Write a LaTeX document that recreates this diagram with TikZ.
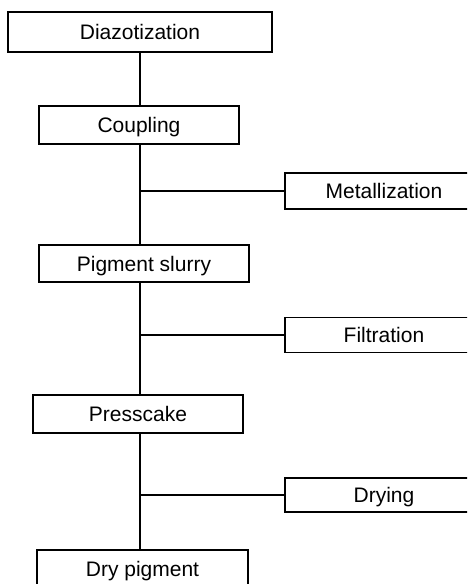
\documentclass[tikz,border=0pt]{standalone}
\usepackage{fontspec}
\setmainfont{Liberation Sans}
\usetikzlibrary{positioning}

\begin{document}
\begin{tikzpicture}[x=1pt,y=-1pt]
\tikzset{stepbox/.style={draw,line width=1.1pt,inner sep=0pt,text height=15pt,text depth=0pt,font=\fontsize{21}{24}\selectfont},
         trunk/.style={line width=1.8pt},
         branch/.style={line width=1.4pt}}
\useasboundingbox (0,0) rectangle (467,584);
\clip (0,0) rectangle (467,584);
\coordinate (spine) at (140,0);
% main line of steps
\node[stepbox,minimum width=264pt,minimum height=40pt] (diaz) at (140,32) {Diazotization};
\node[stepbox,minimum width=200pt,minimum height=38pt] (coup) at (139,125) {Coupling};
\node[stepbox,minimum width=210pt,minimum height=37pt] (slurry) at (144,263.5) {Pigment slurry};
\node[stepbox,minimum width=210pt,minimum height=38pt] (press) at (138,414) {Presscake};
\node[stepbox,minimum width=211pt,minimum height=38pt] (drypig) at (142.5,569) {Dry pigment};
% side steps
\node[stepbox,minimum width=198pt,minimum height=36pt] (metal) at (384,191) {Metallization};
\node[stepbox,minimum width=198pt,minimum height=35pt] (filt) at (384,335) {Filtration};
\node[stepbox,minimum width=198pt,minimum height=34pt] (dry) at (384,495) {Drying};
\draw[trunk] (diaz.south -| spine) -- (coup.north -| spine);
\draw[trunk] (coup.south -| spine) -- (slurry.north -| spine);
\draw[trunk] (slurry.south -| spine) -- (press.north -| spine);
\draw[trunk] (press.south -| spine) -- (drypig.north -| spine);
\draw[branch] (metal.west -| spine) -- (metal.west);
\draw[branch] (filt.west -| spine) -- (filt.west);
\draw[branch] (dry.west -| spine) -- (dry.west);
\end{tikzpicture}
\end{document}
